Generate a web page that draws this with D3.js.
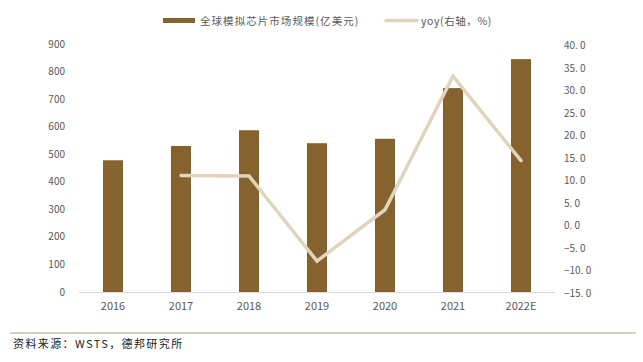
<!DOCTYPE html>
<html>
<head>
<meta charset="utf-8">
<script src="https://cdn.jsdelivr.net/npm/d3@7"></script>
<style>
  body { margin: 0; background: #fff; }
  text { font-family: "Noto Sans CJK SC", "DejaVu Sans", sans-serif; }
</style>
</head>
<body>
<div id="chart"></div>
<script>
// chart data
const years = ['2016', '2017', '2018', '2019', '2020', '2021', '2022E'];
const marketSize = [478, 530, 587, 540, 556, 740, 845];
const yoy = [null, 11.1, 11.0, -7.9, 3.5, 33.2, 14.4];
const leftTicks = [0, 100, 200, 300, 400, 500, 600, 700, 800, 900];
const rightTicks = [-15, -10, -5, 0, 5, 10, 15, 20, 25, 30, 35, 40];
const barLabel = '全球模拟芯片市场规模(亿美元)';
const lineLabel = 'yoy(右轴，%)';
const sourceText = '资料来源：WSTS，德邦研究所';

const w = 643, h = 362;
const brown = '#86622f', beige = '#e0d5bc', grey = '#595959';

const svg = d3.select('#chart').append('svg')
  .attr('width', w)
  .attr('height', h);

// scales
const x = d3.scaleBand().domain(years).range([79, 555]);
const yLeft = d3.scaleLinear().domain([0, 900]).range([292, 44]);
const yRight = d3.scaleLinear().domain([-15, 40]).range([293, 45.5]);

// left axis labels
svg.append('g').selectAll('text')
  .data(leftTicks)
  .join('text')
  .attr('x', 65)
  .attr('y', d => yLeft(d) + 3.5)
  .attr('text-anchor', 'end')
  .attr('font-size', 10)
  .attr('fill', grey)
  .text(d => d);

// right axis labels
svg.append('g').selectAll('text')
  .data(rightTicks)
  .join('text')
  .attr('x', 564)
  .attr('y', d => yRight(d) + 3.5)
  .attr('text-anchor', 'start')
  .attr('font-size', 10)
  .attr('fill', grey)
  .text(d => d3.format('.1f')(d).replace('.', '. ').replace('-', '−'));

// bars
svg.append('g').selectAll('rect')
  .data(years)
  .join('rect')
  .attr('x', d => x(d) + x.bandwidth() / 2 - 10)
  .attr('y', (d, i) => yLeft(marketSize[i]))
  .attr('width', 20)
  .attr('height', (d, i) => yLeft(0) - yLeft(marketSize[i]))
  .attr('fill', brown);

// baseline
svg.append('line')
  .attr('x1', x.range()[0]).attr('x2', x.range()[1])
  .attr('y1', yLeft(0) + 0.5).attr('y2', yLeft(0) + 0.5)
  .attr('stroke', '#d9d9d9');

// x labels
svg.append('g').selectAll('text')
  .data(years)
  .join('text')
  .attr('x', d => x(d) + x.bandwidth() / 2)
  .attr('y', 310)
  .attr('text-anchor', 'middle')
  .attr('font-size', 11)
  .attr('fill', grey)
  .text(d => d);

// yoy line
const line = d3.line()
  .defined(d => d.v !== null)
  .x(d => x(d.year) + x.bandwidth() / 2)
  .y(d => yRight(d.v));

svg.append('path')
  .datum(years.map((year, i) => ({ year, v: yoy[i] })))
  .attr('d', line)
  .attr('fill', 'none')
  .attr('stroke', beige)
  .attr('stroke-width', 3.5)
  .attr('stroke-linecap', 'round');

// legend
const legend = svg.append('g');
legend.append('rect')
  .attr('x', 163).attr('y', 18).attr('width', 32).attr('height', 5)
  .attr('fill', brown);
legend.append('text')
  .attr('x', 200).attr('y', 24.5)
  .attr('font-size', 10.5)
  .attr('fill', grey)
  .attr('letter-spacing', 1.05)
  .text(barLabel);
legend.append('line')
  .attr('x1', 386).attr('x2', 417).attr('y1', 20.5).attr('y2', 20.5)
  .attr('stroke', beige).attr('stroke-width', 3.5).attr('stroke-linecap', 'round');
legend.append('text')
  .attr('x', 421).attr('y', 24.5)
  .attr('font-size', 10.5)
  .attr('fill', grey)
  .attr('letter-spacing', 0.6)
  .text(lineLabel);

// footer
svg.append('line')
  .attr('x1', 10).attr('x2', 636)
  .attr('y1', 333).attr('y2', 333)
  .attr('stroke', '#b49f83').attr('stroke-width', 1.2);
svg.append('text')
  .attr('x', 13).attr('y', 348)
  .attr('font-size', 11)
  .attr('fill', '#222')
  .attr('letter-spacing', 1.4)
  .text(sourceText);
</script>
</body>
</html>
